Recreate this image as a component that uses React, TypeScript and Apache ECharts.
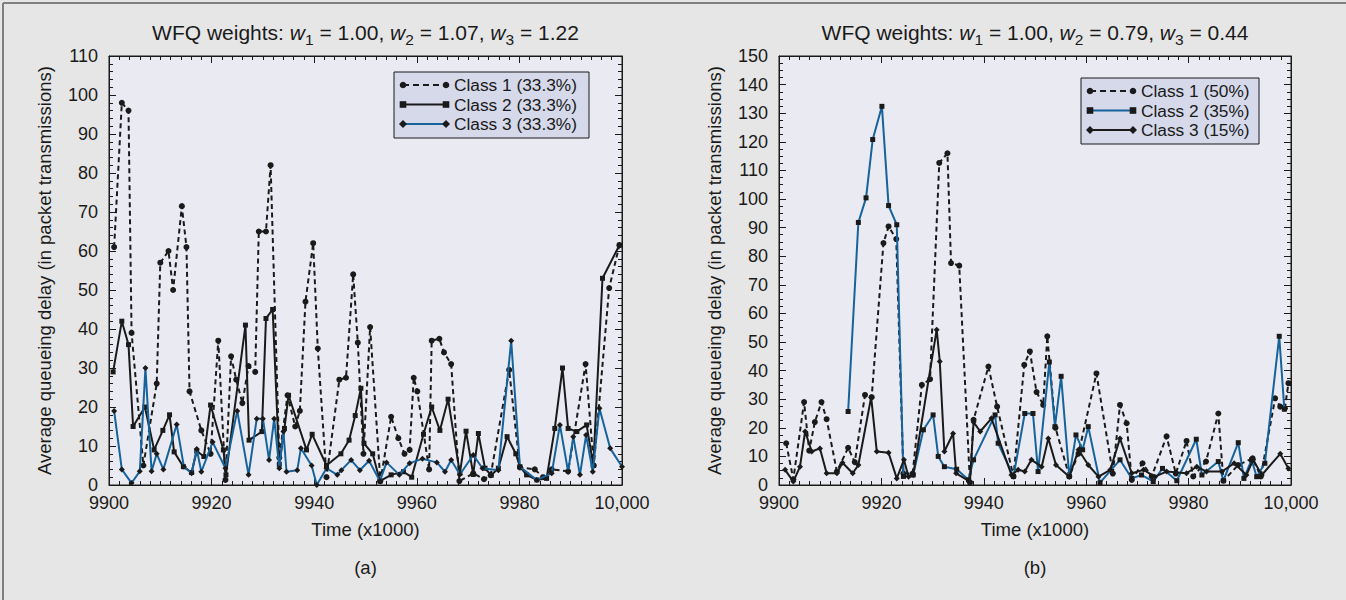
import React, { useEffect, useRef } from "react";
import * as echarts from "echarts";

// ---------- data (x = time in thousands, y = average queueing delay) ----------
const leftClass1: [number, number][] = [
  [9901.0, 61], [9902.5, 98], [9903.8, 96], [9904.4, 39], [9906.7, 5], [9909.3, 26], [9910.0, 57],
  [9911.6, 60], [9912.5, 50], [9914.2, 71.5], [9915.1, 61], [9915.7, 24], [9918.0, 14], [9919.8, 8],
  [9921.3, 37], [9922.7, 1.3], [9923.8, 33], [9924.8, 27], [9926.0, 21], [9927.2, 30.5], [9928.5, 29],
  [9929.2, 65], [9930.6, 65], [9931.5, 82], [9933.2, 7], [9934.8, 23], [9936.3, 15], [9937.2, 19],
  [9938.3, 47], [9939.8, 62], [9940.7, 35], [9942.4, 2], [9944.9, 27], [9946.2, 27.5], [9947.6, 54],
  [9948.5, 36.5], [9949.6, 8], [9950.9, 40.5], [9952.9, 1], [9955.0, 17.5], [9956.4, 12], [9957.6, 8],
  [9958.6, 9], [9959.4, 27.5], [9960.1, 24], [9962.4, 4], [9962.9, 37], [9964.4, 37.5], [9965.3, 34],
  [9966.7, 31], [9968.3, 1], [9971.0, 3], [9973.1, 1.5], [9974.4, 2.5], [9978.0, 29.5], [9980.1, 4.5],
  [9983.0, 4], [9984.6, 2], [9986.3, 4], [9989.5, 3.5], [9992.9, 31], [9994.5, 5], [9997.5, 50.5],
  [9999.5, 61.5],
];
const leftClass2: [number, number][] = [
  [9900.8, 29], [9902.5, 42], [9903.8, 36], [9904.7, 15], [9907.0, 20], [9908.8, 9], [9910.5, 14],
  [9911.8, 18], [9912.7, 8.5], [9914.5, 4.7], [9916.1, 3.2], [9917.1, 8.7], [9918.5, 7.3], [9919.8, 20.5],
  [9922.3, 9], [9922.8, 2.6], [9926.6, 41], [9927.3, 11.5], [9929.8, 13.7], [9930.6, 42.7], [9931.9, 45],
  [9933.2, 5.3], [9934.2, 14.5], [9935.0, 23], [9938.5, 9], [9939.6, 13], [9942.4, 5], [9945.2, 8],
  [9946.8, 11.5], [9948.0, 17.8], [9949.1, 24.8], [9949.7, 10.7], [9951.4, 8], [9952.8, 1], [9955.0, 2.6],
  [9957.4, 3.4], [9959.0, 2], [9961.3, 13], [9962.9, 20], [9964.5, 14], [9966.1, 22], [9968.4, 3],
  [9969.6, 13.8], [9971.0, 2.7], [9972.0, 13.2], [9973.3, 4.3], [9974.5, 2.5], [9975.9, 4.3],
  [9977.6, 12.4], [9979.3, 8], [9980.1, 4.7], [9981.4, 2.6], [9983.4, 1.3], [9985.3, 1.7], [9986.9, 14.5],
  [9988.4, 30], [9989.5, 14.5], [9991.2, 13.7], [9993.1, 15.4], [9994.4, 5], [9996.2, 53], [9999.5, 61.5],
];
const leftClass3: [number, number][] = [
  [9901.0, 19], [9902.5, 4], [9904.4, 0.5], [9906.0, 3.5], [9907.1, 30], [9908.3, 3.5], [9909.3, 8],
  [9910.6, 4], [9913.2, 15.5], [9914.6, 4.7], [9916.1, 3], [9917.1, 9.2], [9918.0, 3.4], [9920.2, 11],
  [9922.7, 4.3], [9925.0, 19], [9927.2, 2.6], [9928.8, 17], [9930.0, 17], [9931.2, 6.4], [9932.2, 17],
  [9933.2, 4.3], [9934.0, 13.7], [9934.6, 3.4], [9936.7, 3.8], [9937.4, 9.4], [9939.5, 5], [9940.5, 0],
  [9942.4, 4.3], [9944.5, 2.6], [9945.3, 3.8], [9947.2, 6.4], [9948.9, 3.8], [9950.7, 6.2], [9952.8, 1],
  [9954.1, 5.8], [9956.6, 2.6], [9958.6, 5.6], [9961.1, 6.7], [9963.9, 5.8], [9965.5, 3.4], [9966.7, 6.4],
  [9968.4, 2.7], [9971.0, 7.7], [9972.8, 4.3], [9975.9, 3.8], [9978.4, 37], [9980.1, 4.7], [9983.4, 1.3],
  [9986.3, 3], [9987.9, 15.4], [9989.5, 3.4], [9990.5, 12.4], [9991.8, 2.6], [9993.0, 12.8], [9994.3, 3.4],
  [9995.6, 19.7], [9997.7, 9.4], [10000.0, 4.7],
];
const rightClass1: [number, number][] = [
  [9901.4, 14.6], [9902.8, 2], [9904.9, 29], [9905.9, 12], [9907.0, 22], [9908.3, 29], [9909.3, 23],
  [9911.3, 4.7], [9913.5, 13], [9914.8, 8], [9916.8, 31.5], [9918.1, 30.7], [9920.4, 84.6], [9921.4, 90.4],
  [9922.9, 86], [9924.3, 4], [9926.1, 4], [9927.9, 35], [9929.5, 37], [9931.3, 112.6], [9932.9, 116],
  [9933.6, 77.6], [9935.2, 76.7], [9937.3, 0.8], [9938.0, 22.8], [9940.9, 41.4], [9942.6, 27.4],
  [9945.8, 3], [9947.9, 42], [9949.0, 46.7], [9950.3, 32.5], [9951.6, 28], [9952.4, 52], [9954.0, 20],
  [9956.7, 3], [9958.5, 11], [9962.0, 39], [9965.2, 4], [9966.6, 28], [9967.9, 21.6], [9968.9, 1.8],
  [9971.0, 7.6], [9972.8, 3], [9975.7, 17], [9977.5, 4], [9979.6, 15.4], [9980.9, 3], [9983.4, 8.2],
  [9985.8, 25], [9986.8, 1.5], [9989.7, 7], [9992.5, 9.3], [9994.1, 3], [9996.9, 30.3], [9997.9, 27.4],
  [9998.8, 26.8], [9999.5, 35.6],
];
const rightClass2: [number, number][] = [
  [9913.5, 25.7], [9915.5, 91.8], [9917.0, 100.4], [9918.3, 120.8], [9920.1, 132.4], [9921.4, 97.7],
  [9923.0, 91], [9924.3, 3], [9926.2, 3.5], [9928.2, 19.3], [9930.1, 24.5], [9931.1, 10], [9932.3, 6.4],
  [9934.7, 5.5], [9937.0, 1.8], [9938.0, 8.8], [9942.2, 24.5], [9942.8, 14.6], [9945.8, 3], [9948.0, 25],
  [9949.6, 25], [9950.6, 4.7], [9952.8, 43], [9953.9, 20.4], [9955.1, 38], [9956.7, 3], [9958.0, 17.5],
  [9959.3, 12.3], [9960.4, 20.4], [9962.7, 0.8], [9966.6, 8.8], [9968.9, 2.3], [9970.8, 3.5],
  [9973.1, 1.2], [9974.9, 5.8], [9977.7, 1.5], [9981.5, 16], [9982.6, 3.5], [9985.8, 8.2], [9986.8, 1.5],
  [9989.7, 14.8], [9990.8, 2.3], [9992.3, 8.8], [9993.3, 2.9], [9994.9, 7.6], [9997.7, 52], [9998.7, 26.5],
];
const rightClass3: [number, number][] = [
  [9901.2, 5.3], [9902.8, 1.2], [9904.1, 6.4], [9905.1, 18.7], [9906.4, 11.7], [9908.0, 12.8],
  [9909.3, 4.1], [9911.3, 4.1], [9912.4, 7.8], [9914.4, 4.1], [9915.5, 7], [9918.0, 30.7], [9919.1, 11.7],
  [9921.4, 11.3], [9923.0, 2.3], [9924.4, 8.8], [9925.3, 2.9], [9926.2, 3.5], [9930.8, 54.3],
  [9931.4, 43.2], [9932.3, 11.7], [9934.0, 18], [9934.6, 4.1], [9937.3, 1.2], [9938.0, 22],
  [9939.3, 18.7], [9941.5, 23.3], [9945.4, 3.5], [9946.7, 5.3], [9948.0, 4.7], [9949.3, 8.8],
  [9951.3, 6.4], [9952.6, 16.3], [9954.1, 7], [9956.7, 2.9], [9958.5, 12.3], [9960.4, 7], [9962.4, 2.9],
  [9964.7, 5.3], [9966.6, 16.3], [9968.9, 4.1], [9971.2, 5.3], [9973.4, 2.9], [9975.7, 4.7],
  [9979.6, 4.1], [9981.6, 6.4], [9983.5, 4.7], [9986.5, 4.7], [9988.9, 7.6], [9991.3, 3.5],
  [9992.6, 8.8], [9994.3, 3.5], [9997.9, 10.9], [9999.5, 5.8],
];

const leftNames = ["Class 1 (33.3%)", "Class 2 (33.3%)", "Class 3 (33.3%)"];
const rightNames = ["Class 1 (50%)", "Class 2 (35%)", "Class 3 (15%)"];
const leftWeights = ["1.00", "1.07", "1.22"];
const rightWeights = ["1.00", "0.79", "0.44"];
const panelLabels = ["(a)", "(b)"];
const xMin = 9900;
const xMax = 10000;
const xInterval = 20;
const leftYMax = 110;
const rightYMax = 150;
const yInterval = 10;

// ---------- style ----------
const FONT = '"Liberation Sans", Arial, sans-serif';
const INK = "#1a1a1a";
const BLUE = "#16639c";
const PLOT_BG = "#eaeaf2";
const PAGE_BG = "#e6e6e6";
const LEGEND_BG = "#d5d9ea";
const DASH = [5, 3.5];
const LEGEND_DASH = [6, 4];

const G = [
  { left: 109, top: 56, width: 513, height: 429 },
  { left: 779, top: 56, width: 512, height: 429 },
];

function xAxes(gridIndex: number) {
  const common = {
    type: "value",
    gridIndex,
    min: xMin,
    max: xMax,
    interval: xInterval,
    axisLine: { show: true, onZero: false, lineStyle: { color: INK, width: 1 } },
    axisTick: { show: true, inside: true, length: 7, lineStyle: { color: INK } },
    minorTick: { show: true, splitNumber: 10, length: 4, lineStyle: { color: INK } },
    splitLine: { show: false },
  };
  return [
    {
      ...common,
      position: "bottom",
      axisLabel: {
        color: INK,
        fontSize: 18,
        lineHeight: 14,
        fontFamily: FONT,
        margin: 11,
        showMinLabel: true,
        showMaxLabel: true,
        formatter: (v: number) => (v === 10000 ? "10,000" : String(v)),
      },
      name: "Time (x1000)",
      nameLocation: "middle",
      nameGap: 35,
      nameTextStyle: { color: INK, fontSize: 18.5, fontFamily: FONT },
    },
    { ...common, position: "top", axisLabel: { show: false } },
  ];
}

function yAxes(gridIndex: number, max: number, minorSplit: number) {
  const common = {
    type: "value",
    gridIndex,
    min: 0,
    max,
    interval: yInterval,
    axisLine: { show: true, onZero: false, lineStyle: { color: INK, width: 1 } },
    axisTick: { show: true, inside: true, length: 7, lineStyle: { color: INK } },
    minorTick: { show: true, splitNumber: minorSplit, length: 4, lineStyle: { color: INK } },
    splitLine: { show: false },
  };
  return [
    {
      ...common,
      position: "left",
      axisLabel: {
        color: INK,
        fontSize: 18,
        lineHeight: 14,
        padding: [0, 0, 4, 0],
        fontFamily: FONT,
        margin: 11,
        showMinLabel: true,
        showMaxLabel: true,
      },
      name: "Average queueing delay (in packet transmissions)",
      nameLocation: "middle",
      nameRotate: 90,
      nameGap: 55,
      nameTextStyle: { color: INK, fontSize: 18.5, fontFamily: FONT },
    },
    { ...common, position: "right", axisLabel: { show: false } },
  ];
}

type Spec = { name: string; data: [number, number][]; color: string; dashed: boolean; symbol: string; size: number };

function lineSeries(s: Spec, axisIndex: number, z: number) {
  return {
    type: "line",
    name: s.name,
    xAxisIndex: axisIndex,
    yAxisIndex: axisIndex,
    data: s.data,
    symbol: s.symbol,
    symbolSize: s.size,
    showAllSymbol: true,
    z,
    lineStyle: { color: s.color, width: 2, type: s.dashed ? DASH : "solid" },
    itemStyle: { color: INK },
  };
}

function legendGraphic(x: number, y: number, w: number, h: number, rowGap: number, specs: Spec[]) {
  const children: any[] = [
    { type: "rect", shape: { x, y, width: w, height: h }, style: { fill: LEGEND_BG, stroke: INK, lineWidth: 1 } },
  ];
  specs.forEach((s, i) => {
    const cy = y + 13 + i * rowGap;
    const x1 = x + 9;
    const x2 = x + 52;
    children.push({
      type: "line",
      shape: { x1, y1: cy, x2, y2: cy },
      style: { stroke: s.color, lineWidth: 2, lineDash: s.dashed ? LEGEND_DASH : null },
    });
    [x1, x2].forEach((cx) => {
      if (s.symbol === "circle") {
        children.push({ type: "circle", shape: { cx, cy, r: 3.3 }, style: { fill: INK } });
      } else if (s.symbol === "rect") {
        children.push({ type: "rect", shape: { x: cx - 3.3, y: cy - 3.3, width: 6.6, height: 6.6 }, style: { fill: INK } });
      } else {
        children.push({
          type: "polygon",
          shape: { points: [[cx, cy - 4], [cx + 4, cy], [cx, cy + 4], [cx - 4, cy]] },
          style: { fill: INK },
        });
      }
    });
    children.push({
      type: "text",
      x: x + 60,
      y: cy,
      style: {
        text: s.name,
        fill: INK,
        fontSize: 17.3,
        fontFamily: FONT,
        lineHeight: 16,
        verticalAlign: "middle",
        align: "left",
      },
    });
  });
  return { type: "group", children };
}

function titleGraphic(cx: number, weights: string[]) {
  const text =
    `{n|WFQ weights: }{i|w}{s|1}{n| = ${weights[0]}, }{i|w}{s|2}{n| = ${weights[1]}, }{i|w}{s|3}{n| = ${weights[2]}}`;
  return {
    type: "text",
    x: cx,
    y: 32,
    style: {
      text,
      align: "center",
      verticalAlign: "middle",
      fill: INK,
      fontSize: 21,
      fontFamily: FONT,
      rich: {
        n: { fontSize: 21, fontFamily: FONT, fill: INK, lineHeight: 30, verticalAlign: "middle" },
        i: { fontSize: 21, fontFamily: FONT, fontStyle: "italic", fill: INK, lineHeight: 30, verticalAlign: "middle" },
        s: { fontSize: 15.5, fontFamily: FONT, fill: INK, lineHeight: 15, verticalAlign: "bottom" },
      },
    },
  };
}

export default function App() {
  const ref = useRef<HTMLDivElement>(null);
  useEffect(() => {
    if (!ref.current) return;
    const chart = echarts.init(ref.current, undefined, { renderer: "svg" });

    const leftSpecs: Spec[] = [
      { name: leftNames[0], data: leftClass1, color: INK, dashed: true, symbol: "circle", size: 6 },
      { name: leftNames[1], data: leftClass2, color: INK, dashed: false, symbol: "rect", size: 5 },
      { name: leftNames[2], data: leftClass3, color: BLUE, dashed: false, symbol: "diamond", size: 6 },
    ];
    const rightSpecs: Spec[] = [
      { name: rightNames[0], data: rightClass1, color: INK, dashed: true, symbol: "circle", size: 6 },
      { name: rightNames[1], data: rightClass2, color: BLUE, dashed: false, symbol: "rect", size: 5 },
      { name: rightNames[2], data: rightClass3, color: INK, dashed: false, symbol: "diamond", size: 6 },
    ];

    const option: any = {
      animation: false,
      backgroundColor: PAGE_BG,
      grid: G.map((g) => ({
        ...g,
        show: true,
        backgroundColor: PLOT_BG,
        borderColor: INK,
        borderWidth: 1,
        containLabel: false,
      })),
      xAxis: [...xAxes(0), ...xAxes(1)],
      yAxis: [...yAxes(0, leftYMax, 5), ...yAxes(1, rightYMax, 4)],
      series: [
        ...leftSpecs.map((s, i) => lineSeries(s, 0, 3 + i)),
        ...rightSpecs.map((s, i) => lineSeries(s, 2, 3 + i)),
      ],
      graphic: [
        { type: "line", shape: { x1: 3, y1: 3, x2: 1346, y2: 3 }, style: { stroke: "#808080", lineWidth: 2 } },
        { type: "line", shape: { x1: 3, y1: 3, x2: 3, y2: 600 }, style: { stroke: "#808080", lineWidth: 2 } },
        titleGraphic(G[0].left + G[0].width / 2, leftWeights),
        titleGraphic(G[1].left + G[1].width / 2, rightWeights),
        legendGraphic(394, 72, 195, 66, 19.5, leftSpecs),
        legendGraphic(1081, 78, 178, 66, 19.5, rightSpecs),
        {
          type: "text",
          x: G[0].left + G[0].width / 2,
          y: 567,
          style: { text: panelLabels[0], fill: INK, fontSize: 18.5, fontFamily: FONT, align: "center", verticalAlign: "middle" },
        },
        {
          type: "text",
          x: G[1].left + G[1].width / 2,
          y: 567,
          style: { text: panelLabels[1], fill: INK, fontSize: 18.5, fontFamily: FONT, align: "center", verticalAlign: "middle" },
        },
      ],
    };
    chart.setOption(option);
    return () => chart.dispose();
  }, []);

  return (
    <div
      ref={ref}
      style={{ position: "absolute", left: 0, top: 0, width: 1346, height: 600, background: PAGE_BG }}
    />
  );
}
